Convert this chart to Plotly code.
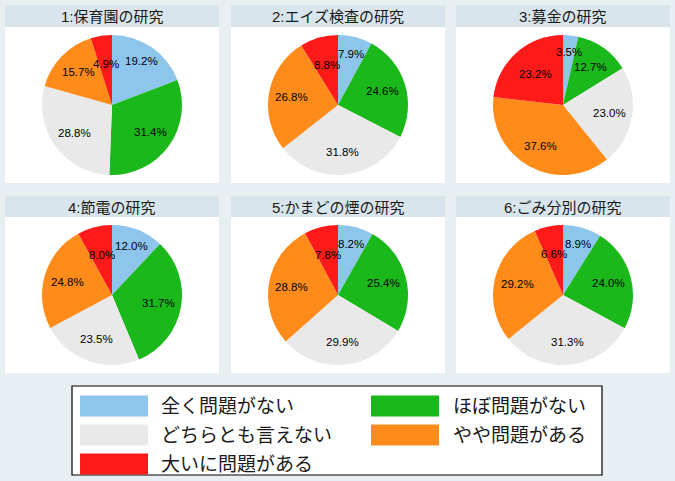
import math
import plotly.graph_objects as go

W, H = 675, 481

# 回答カテゴリと色
labels = ["全く問題がない", "ほぼ問題がない", "どちらとも言えない", "やや問題がある", "大いに問題がある"]
colors = ["#8ec5ec", "#1bb81b", "#e9e9e9", "#ff8c1a", "#ff1a1a"]

titles = ["1:保育園の研究", "2:エイズ検査の研究", "3:募金の研究",
          "4:節電の研究", "5:かまどの煙の研究", "6:ごみ分別の研究"]

# 各研究の割合(%)
hoikuen = [19.2, 31.4, 28.8, 15.7, 4.9]
aids = [7.9, 24.6, 31.8, 26.8, 8.8]
bokin = [3.5, 12.7, 23.0, 37.6, 23.2]
setsuden = [12.0, 31.7, 23.5, 24.8, 8.0]
kamado = [8.2, 25.4, 29.9, 28.8, 7.8]
gomi = [8.9, 24.0, 31.3, 29.2, 6.6]
all_values = [hoikuen, aids, bokin, setsuden, kamado, gomi]

BG = "#e7eff2"
BAR = "#d8e5ec"
JP = "Liberation Sans, Arial, Noto Sans CJK JP"

# ラベルを置く半径の割合(扇ごと)
label_dist = [0.755, 0.67, 0.67, 0.67, 0.595]


def px_x(x):
    return x / W


def px_y(y):
    return 1 - y / H


fig = go.Figure()
shapes = []
annotations = []

col_x = [(5, 219), (231, 445), (456, 670)]
row_y = [(5, 27, 183), (196, 217, 373)]
RAD = 70

for i, vals in enumerate(all_values):
    r, c = divmod(i, 3)
    x0, x1 = col_x[c]
    yt, yw, yb = row_y[r]
    # パネル背景とタイトル帯
    shapes.append(dict(type="rect", xref="paper", yref="paper",
                       x0=px_x(x0), x1=px_x(x1), y0=px_y(yb), y1=px_y(yw),
                       fillcolor="white", line_width=0, layer="below"))
    shapes.append(dict(type="rect", xref="paper", yref="paper",
                       x0=px_x(x0), x1=px_x(x1), y0=px_y(yw), y1=px_y(yt),
                       fillcolor=BAR, line_width=0, layer="below"))
    annotations.append(dict(text=titles[i], xref="paper", yref="paper",
                            x=px_x((x0 + x1) / 2), y=px_y((yt + yw) / 2 + 1),
                            xanchor="center", yanchor="middle",
                            showarrow=False, font=dict(size=15, color="#1a1a1a", family=JP)))
    cx = (x0 + x1) / 2
    cy = (yw + yb) / 2
    fig.add_trace(go.Pie(
        values=vals, labels=labels, sort=False, direction="clockwise",
        marker=dict(colors=colors, line=dict(width=0)),
        textinfo="none", hoverinfo="label+value", showlegend=False,
        domain=dict(x=[px_x(cx - RAD), px_x(cx + RAD)], y=[px_y(cy + RAD), px_y(cy - RAD)]),
    ))
    # 割合ラベル(扇の中央角)
    total = sum(vals)
    acc = 0
    for v, f in zip(vals, label_dist):
        mid = (acc + v / 2) / total * 2 * math.pi
        acc += v
        lx = cx + f * RAD * math.sin(mid)
        ly = cy - f * RAD * math.cos(mid)
        annotations.append(dict(text=f"{v:.1f}%", xref="paper", yref="paper",
                                x=px_x(lx), y=px_y(ly), xanchor="center", yanchor="middle",
                                showarrow=False,
                                font=dict(size=11.5, color="black", family="Liberation Sans, Arial")))

# 凡例
shapes.append(dict(type="rect", xref="paper", yref="paper",
                   x0=px_x(72), x1=px_x(602), y0=px_y(475), y1=px_y(386),
                   fillcolor="white", line=dict(color="black", width=1.2), layer="below"))
leg_x = [(80, 148, 159), (371, 439, 451)]
leg_y = [406, 435, 464]
for k, (lab, col) in enumerate(zip(labels, colors)):
    rr, cc = divmod(k, 2)
    sx0, sx1, tx = leg_x[cc]
    yy = leg_y[rr]
    shapes.append(dict(type="rect", xref="paper", yref="paper",
                       x0=px_x(sx0), x1=px_x(sx1), y0=px_y(yy + 10.5), y1=px_y(yy - 10.5),
                       fillcolor=col, line_width=0))
    annotations.append(dict(text=lab, xref="paper", yref="paper",
                            x=px_x(tx), y=px_y(yy), xanchor="left", yanchor="middle",
                            showarrow=False, font=dict(size=19, color="#1a1a1a", family=JP)))

fig.update_layout(
    width=W, height=H,
    margin=dict(l=0, r=0, t=0, b=0),
    paper_bgcolor=BG, plot_bgcolor=BG,
    shapes=shapes, annotations=annotations,
    showlegend=False,
)

fig.write_html("out.html", config={"displayModeBar": False},
               post_script="document.body.style.margin='0';")
